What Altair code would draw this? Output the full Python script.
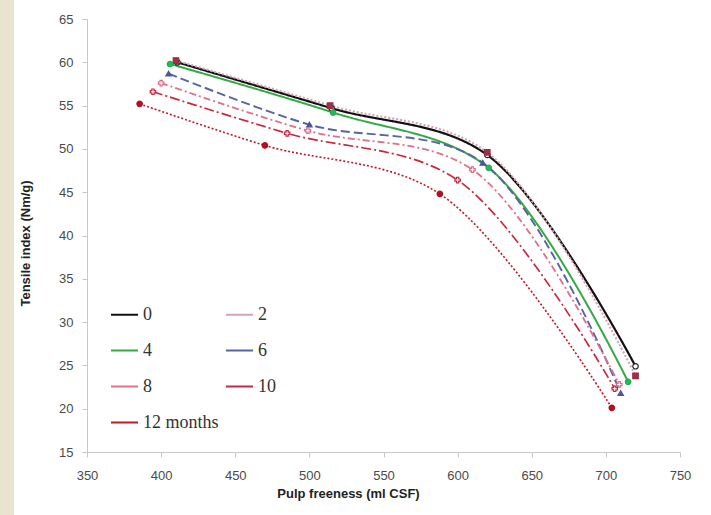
import altair as alt
import pandas as pd

series_names = ["0", "2", "4", "6", "8", "10", "12 months"]

freeness = {
    "0": [411, 515, 620, 720],
    "2": [410, 514, 620, 720],
    "4": [406, 516, 621, 715],
    "6": [405, 500, 617, 710],
    "8": [400, 499, 610, 709],
    "10": [394.5, 485, 600, 706],
    "12 months": [385.5, 470, 588, 704],
}
tensile = {
    "0": [60.0, 54.7, 49.3, 24.9],
    "2": [60.2, 55.0, 49.6, 23.8],
    "4": [59.8, 54.2, 47.8, 23.1],
    "6": [58.7, 52.8, 48.4, 21.8],
    "8": [57.6, 52.1, 47.6, 22.8],
    "10": [56.6, 51.8, 46.4, 22.3],
    "12 months": [55.2, 50.4, 44.8, 20.1],
}

rows = []
for s in series_names:
    for i, (fx, ty) in enumerate(zip(freeness[s], tensile[s])):
        rows.append({"series": s, "freeness": fx, "tensile": ty, "order": i})
df = pd.DataFrame(rows)

line_colors = ["#111111", "#d8a0b0", "#33aa44", "#5565a0", "#e0708a", "#c8283c", "#c01825"]
marker_strokes = ["#222222", "#9a2a40", "#22aa55", "#4a5a98", "#e06a88", "#c02a40", "#b01020"]
marker_fills = ["#ffffff", "#a03048", "#22bb55", "#4a5a98", "#ffffff", "#ffffff", "#b01020"]
dashes = [[1, 0], [2, 2], [1, 0], [9, 4], [7, 3, 2, 3], [10, 3, 2, 3], [2, 2]]
widths = [2.2, 1.6, 1.5, 1.6, 1.8, 2.0, 2.0]
shapes = ["circle", "square", "circle", "triangle-up", "cross", "cross", "circle"]

x_enc = alt.X("freeness:Q",
              scale=alt.Scale(domain=[350, 750], nice=False, zero=False),
              axis=alt.Axis(values=list(range(350, 751, 50)), title="Pulp freeness (ml CSF)",
                            labelFlush=False,
                            titleX=261, titleAlign="center", labelPadding=12, titlePadding=5))
y_enc = alt.Y("tensile:Q",
              scale=alt.Scale(domain=[15, 65], nice=False, zero=False),
              axis=alt.Axis(values=list(range(15, 66, 5)), title="Tensile index (Nm/g)",
                            labelFlush=False,
                            titleY=224, labelPadding=9, titlePadding=26))

base = alt.Chart(df)

lines = base.mark_line(interpolate="catmull-rom").encode(
    x=x_enc,
    y=y_enc,
    order="order:O",
    color=alt.Color("series:N", sort=series_names,
                    scale=alt.Scale(domain=series_names, range=line_colors),
                    legend=alt.Legend(title=None, orient="none", legendX=23, legendY=281,
                                      direction="horizontal",
                                      columns=2, columnPadding=3, rowPadding=12,
                                      symbolType="stroke", symbolSize=729, symbolStrokeWidth=2,
                                      labelFont="Liberation Serif", labelFontSize=18,
                                      labelColor="#333333", labelOffset=4, padding=0)),
    strokeDash=alt.StrokeDash("series:N", sort=series_names,
                              scale=alt.Scale(domain=series_names, range=dashes)),
    strokeWidth=alt.StrokeWidth("series:N", sort=series_names,
                                scale=alt.Scale(domain=series_names, range=widths), legend=None),
)

points = base.mark_point(filled=False, strokeWidth=1.2, opacity=1).encode(
    x="freeness:Q",
    y="tensile:Q",
    shape=alt.Shape("series:N", scale=alt.Scale(domain=series_names, range=shapes), legend=None),
    fill=alt.Fill("series:N", scale=alt.Scale(domain=series_names, range=marker_fills), legend=None),
    stroke=alt.Stroke("series:N", scale=alt.Scale(domain=series_names, range=marker_strokes), legend=None),
    size=alt.value(30),
)

stripe = alt.Chart(pd.DataFrame({"a": [0]})).mark_rect(color="#e8e4d0").encode(
    x=alt.value(-87), x2=alt.value(-73), y=alt.value(-19), y2=alt.value(496)
)

chart = alt.layer(stripe, lines, points).resolve_scale(
    color="independent", shape="independent"
).properties(
    width=593, height=433, padding=0, background="white"
).configure_view(stroke=None).configure_axis(
    grid=False,
    domainColor="#c8c8c8",
    tickColor="#c8c8c8",
    tickSize=5,
    labelFont="Liberation Sans",
    labelFontSize=13,
    labelColor="#4a4a4a",
    titleFont="Liberation Sans",
    titleFontSize=13,
    titleFontWeight="bold",
    titleColor="#222222",
)

chart.save("out.html", embed_options={"renderer": "svg", "actions": False})
